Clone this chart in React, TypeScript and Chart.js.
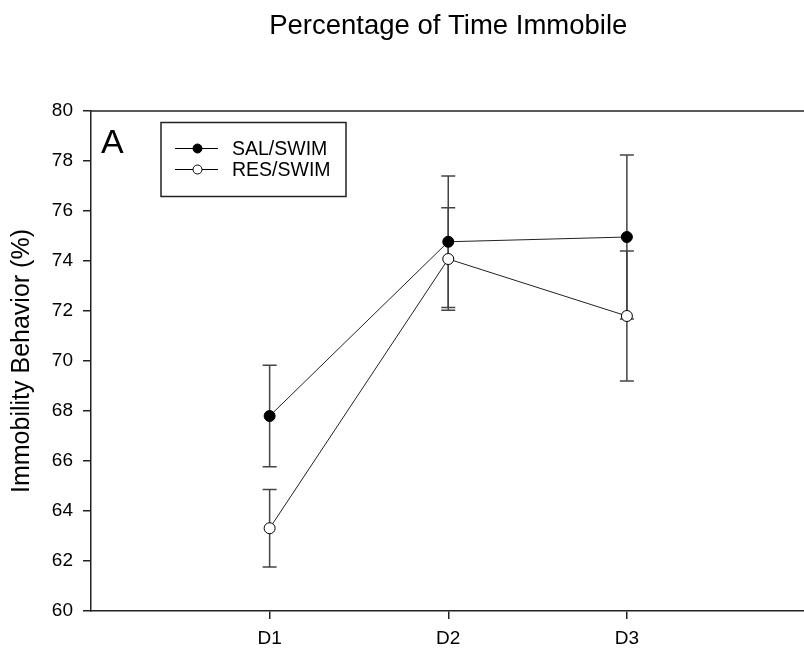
import React, { useEffect, useRef } from 'react';
import { Chart, registerables } from 'chart.js';

Chart.register(...registerables);

const categories = ['D1', 'D2', 'D3'];
const seriesLabels = ['SAL/SWIM', 'RES/SWIM'];
const salMean = [67.8, 74.77, 74.96];
const salErr = [2.03, 2.63, 3.28];
const resMean = [63.31, 74.08, 71.8];
const resErr = [1.55, 2.05, 2.6];
const yTicks = [60, 62, 64, 66, 68, 70, 72, 74, 76, 78, 80];
const chartTitle = 'Percentage of Time Immobile';
const yTitle = 'Immobility Behavior (%)';
const panelLabel = 'A';

const FONT = '"Liberation Sans", Arial, sans-serif';

const customPlugin = {
  id: 'customDecor',
  beforeDatasetsDraw(chart: any) {
    const { ctx, chartArea, scales } = chart;
    const x = scales.x;
    const y = scales.y;
    ctx.save();
    // top frame line
    ctx.strokeStyle = '#222';
    ctx.lineWidth = 1.5;
    ctx.beginPath();
    ctx.moveTo(chartArea.left, chartArea.top);
    ctx.lineTo(chartArea.right, chartArea.top);
    ctx.stroke();
    // error bars
    ctx.strokeStyle = '#444';
    ctx.lineWidth = 1.5;
    chart.data.datasets.forEach((ds: any) => {
      ds.data.forEach((p: any, i: number) => {
        const e = ds.errors[i];
        const px = x.getPixelForValue(p.x);
        const yHi = y.getPixelForValue(p.y + e);
        const yLo = y.getPixelForValue(p.y - e);
        ctx.beginPath();
        ctx.moveTo(px, yHi);
        ctx.lineTo(px, yLo);
        ctx.moveTo(px - 7, yHi);
        ctx.lineTo(px + 7, yHi);
        ctx.moveTo(px - 7, yLo);
        ctx.lineTo(px + 7, yLo);
        ctx.stroke();
      });
    });
    ctx.restore();
  },
  afterDraw(chart: any) {
    const { ctx, chartArea } = chart;
    ctx.save();
    // panel label
    ctx.fillStyle = '#000';
    ctx.font = '34px ' + FONT;
    ctx.textBaseline = 'alphabetic';
    ctx.textAlign = 'left';
    ctx.fillText(panelLabel, chartArea.left + 10, chartArea.top + 42);
    // legend box
    const bx = chartArea.left + 70;
    const by = chartArea.top + 11.5;
    ctx.strokeStyle = '#222';
    ctx.lineWidth = 1.5;
    ctx.strokeRect(bx, by, 185, 74);
    chart.data.datasets.forEach((ds: any, i: number) => {
      const ry = by + 26 + i * 21;
      ctx.strokeStyle = '#000';
      ctx.lineWidth = 1;
      ctx.beginPath();
      ctx.moveTo(bx + 14, ry);
      ctx.lineTo(bx + 57, ry);
      ctx.stroke();
      ctx.beginPath();
      ctx.arc(bx + 36.5, ry, 4.5, 0, Math.PI * 2);
      ctx.fillStyle = ds.pointBackgroundColor;
      ctx.fill();
      ctx.stroke();
      ctx.fillStyle = '#000';
      ctx.font = '19.5px ' + FONT;
      ctx.textBaseline = 'middle';
      ctx.fillText(ds.label, bx + 71, ry + 1);
    });
    ctx.restore();
  },
};

export default function App() {
  const ref = useRef<HTMLCanvasElement>(null);
  useEffect(() => {
    if (!ref.current) return;
    Chart.defaults.font.family = FONT;
    const chart = new Chart(ref.current, {
      type: 'line',
      data: {
        datasets: [
          {
            label: seriesLabels[0],
            data: salMean.map((v, i) => ({ x: i + 1, y: v })),
            errors: salErr,
            borderColor: '#222',
            borderWidth: 1,
            pointRadius: 5.5,
            pointBorderWidth: 1,
            pointBackgroundColor: '#000',
            pointBorderColor: '#000',
          } as any,
          {
            label: seriesLabels[1],
            data: resMean.map((v, i) => ({ x: i + 1, y: v })),
            errors: resErr,
            borderColor: '#222',
            borderWidth: 1,
            pointRadius: 5.5,
            pointBorderWidth: 1,
            pointBackgroundColor: '#fff',
            pointBorderColor: '#000',
          } as any,
        ],
      },
      options: {
        responsive: false,
        animation: false,
        layout: { padding: { left: 0, right: 6, top: 0, bottom: 0 } },
        plugins: {
          legend: { display: false },
          tooltip: { enabled: false },
          title: {
            display: true,
            text: chartTitle,
            fullSize: false,
            color: '#000',
            font: { size: 27.5, weight: 'normal', family: FONT },
            padding: { top: 10, bottom: 68 },
          },
        },
        scales: {
          x: {
            type: 'linear',
            min: 0,
            max: categories.length + 1,
            afterBuildTicks: (s: any) => {
              s.ticks = categories.map((_, i) => ({ value: i + 1 }));
            },
            afterFit: (s: any) => {
              s.height = 40;
            },
            ticks: {
              autoSkip: false,
              maxRotation: 0,
              color: '#000',
              padding: 8,
              font: { size: 19, family: FONT },
              callback: (v: any) => categories[Number(v) - 1] ?? '',
            },
            grid: {
              display: true,
              drawOnChartArea: false,
              drawTicks: true,
              tickLength: 8,
              color: '#222',
              lineWidth: 1.5,
            },
            border: { display: true, color: '#222', width: 1.5 },
          },
          y: {
            type: 'linear',
            min: 60,
            max: 80,
            afterBuildTicks: (s: any) => {
              s.ticks = yTicks.map((v) => ({ value: v }));
            },
            afterFit: (s: any) => {
              s.width = 91;
            },
            ticks: {
              color: '#000',
              padding: 10,
              font: { size: 19, family: FONT },
            },
            grid: {
              display: true,
              drawOnChartArea: false,
              drawTicks: true,
              tickLength: 8,
              color: '#222',
              lineWidth: 1.5,
            },
            border: { display: true, color: '#222', width: 1.5 },
            title: {
              display: true,
              text: yTitle,
              color: '#000',
              font: { size: 25, family: FONT },
              padding: { top: 7, bottom: 0 },
            },
          },
        },
      },
      plugins: [customPlugin],
    } as any);
    return () => chart.destroy();
  }, []);
  return (
    <div style={{ position: 'absolute', left: 0, top: 0, width: 804, height: 651, overflow: 'hidden' }}>
      <canvas ref={ref} width={812} height={651} style={{ display: 'block' }} />
    </div>
  );
}
